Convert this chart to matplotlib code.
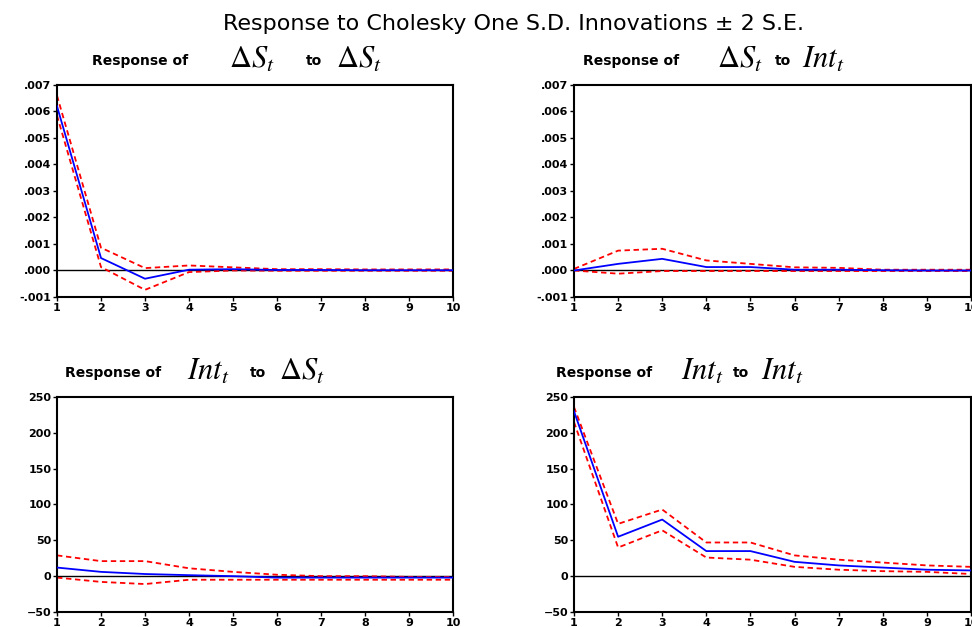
import matplotlib
matplotlib.use("Agg")
import matplotlib.pyplot as plt
from matplotlib.ticker import FuncFormatter

# Periods
periods = [1, 2, 3, 4, 5, 6, 7, 8, 9, 10]

# Response of dS to dS
ds_ds = [0.0062, 0.00047, -0.00031, 0.00003, 0.00005, 0.00002, 0.00002, 0.00001, 0.00001, 0.00001]
ds_ds_hi = [0.0066, 0.00086, 0.00009, 0.00019, 0.00012, 0.00005, 0.00005, 0.00004, 0.00004, 0.00004]
ds_ds_lo = [0.00585, 0.00013, -0.00073, -0.00006, 0.0, -0.00001, -0.00001, -0.00001, -0.00001, -0.00001]

# Response of dS to Int
ds_int = [0.0, 0.00025, 0.00044, 0.00013, 0.00013, 0.00003, 0.00003, 0.00001, 0.0, 0.0]
ds_int_hi = [0.00006, 0.00075, 0.00082, 0.00038, 0.00025, 0.00012, 0.0001, 0.00003, 0.00003, 0.00003]
ds_int_lo = [0.0, -0.00012, -0.00002, -0.00002, -0.00002, -0.00002, -0.00002, -0.00002, -0.00002, -0.00002]

# Response of Int to dS
int_ds = [12, 6, 3, 1.4, 0, -2, -2, -2, -2, -2]
int_ds_hi = [29, 21, 21, 11, 6, 2, 0, 0, -1, -1]
int_ds_lo = [-2, -8, -11, -5, -5, -5, -5, -5, -5, -5]

# Response of Int to Int
int_int = [230, 55, 79, 35, 35, 20, 15, 12, 9, 8]
int_int_hi = [236, 73, 93, 47, 47, 29, 23, 19, 15, 13]
int_int_lo = [215, 40, 64, 26, 23, 13, 9, 7, 6, 3]

small_ticks = [-0.001, 0.0, 0.001, 0.002, 0.003, 0.004, 0.005, 0.006, 0.007]
big_ticks = [-50, 0, 50, 100, 150, 200, 250]

plt.rcParams['mathtext.fontset'] = 'stix'

W, H = 972, 627
fig = plt.figure(figsize=(W / 100, H / 100), dpi=100)


def px_axes(left, top, right, bottom):
    return fig.add_axes([left / W, 1 - bottom / H, (right - left) / W, (bottom - top) / H])


def dec_fmt(v, pos):
    s = "%.3f" % v
    if s.startswith("-0"):
        s = "-" + s[2:]
    elif s.startswith("0"):
        s = s[1:]
    return s


def draw(ax, mid, hi, lo, ticks, fmt=None):
    ax.axhline(0, color='black', lw=1.0, zorder=1)
    ax.plot(periods, hi, color='red', lw=1.3, ls=(0, (3, 2)), zorder=2)
    ax.plot(periods, lo, color='red', lw=1.3, ls=(0, (3, 2)), zorder=2)
    ax.plot(periods, mid, color='blue', lw=1.3, zorder=3)
    ax.set_xlim(1, 10)
    ax.set_ylim(ticks[0], ticks[-1])
    ax.set_xticks(periods)
    ax.set_yticks(ticks)
    if fmt:
        ax.yaxis.set_major_formatter(FuncFormatter(fmt))
    ax.tick_params(direction='out', length=3, width=1, labelsize=8, pad=1)
    for lbl in ax.get_xticklabels() + ax.get_yticklabels():
        lbl.set_fontweight('bold')
    for sp in ax.spines.values():
        sp.set_linewidth(1.5)


ax1 = px_axes(57, 85, 453, 297)
draw(ax1, ds_ds, ds_ds_hi, ds_ds_lo, small_ticks, dec_fmt)
ax2 = px_axes(574, 85, 971, 297)
draw(ax2, ds_int, ds_int_hi, ds_int_lo, small_ticks, dec_fmt)
ax3 = px_axes(57, 397, 453, 612)
draw(ax3, int_ds, int_ds_hi, int_ds_lo, big_ticks)
ax4 = px_axes(574, 397, 971, 612)
draw(ax4, int_int, int_int_hi, int_int_lo, big_ticks)


def ftext(x, y, s, **kw):
    fig.text(x / W, 1 - y / H, s, va='center', ha='left', **kw)


fig.text(513 / W, 1 - 24 / H, "Response to Cholesky One S.D. Innovations ± 2 S.E.",
         ha='center', va='center', fontsize=16)

dS = r"$\Delta S_t$"
Int = r"$Int_t$"
lab = dict(fontsize=10, fontweight='bold')
mth = dict(fontsize=22)

# top left
ftext(92, 61, "Response of", **lab)
ftext(229, 59, dS, **mth)
ftext(306, 61, "to", **lab)
ftext(336, 59, dS, **mth)
# top right
ftext(583, 61, "Response of", **lab)
ftext(717, 59, dS, **mth)
ftext(775, 61, "to", **lab)
ftext(802, 59, Int, **mth)
# bottom left
ftext(65, 373, "Response of", **lab)
ftext(187, 371, Int, **mth)
ftext(250, 373, "to", **lab)
ftext(279, 371, dS, **mth)
# bottom right
ftext(556, 373, "Response of", **lab)
ftext(681, 371, Int, **mth)
ftext(733, 373, "to", **lab)
ftext(761, 371, Int, **mth)

fig.savefig("out.png", dpi=100)
